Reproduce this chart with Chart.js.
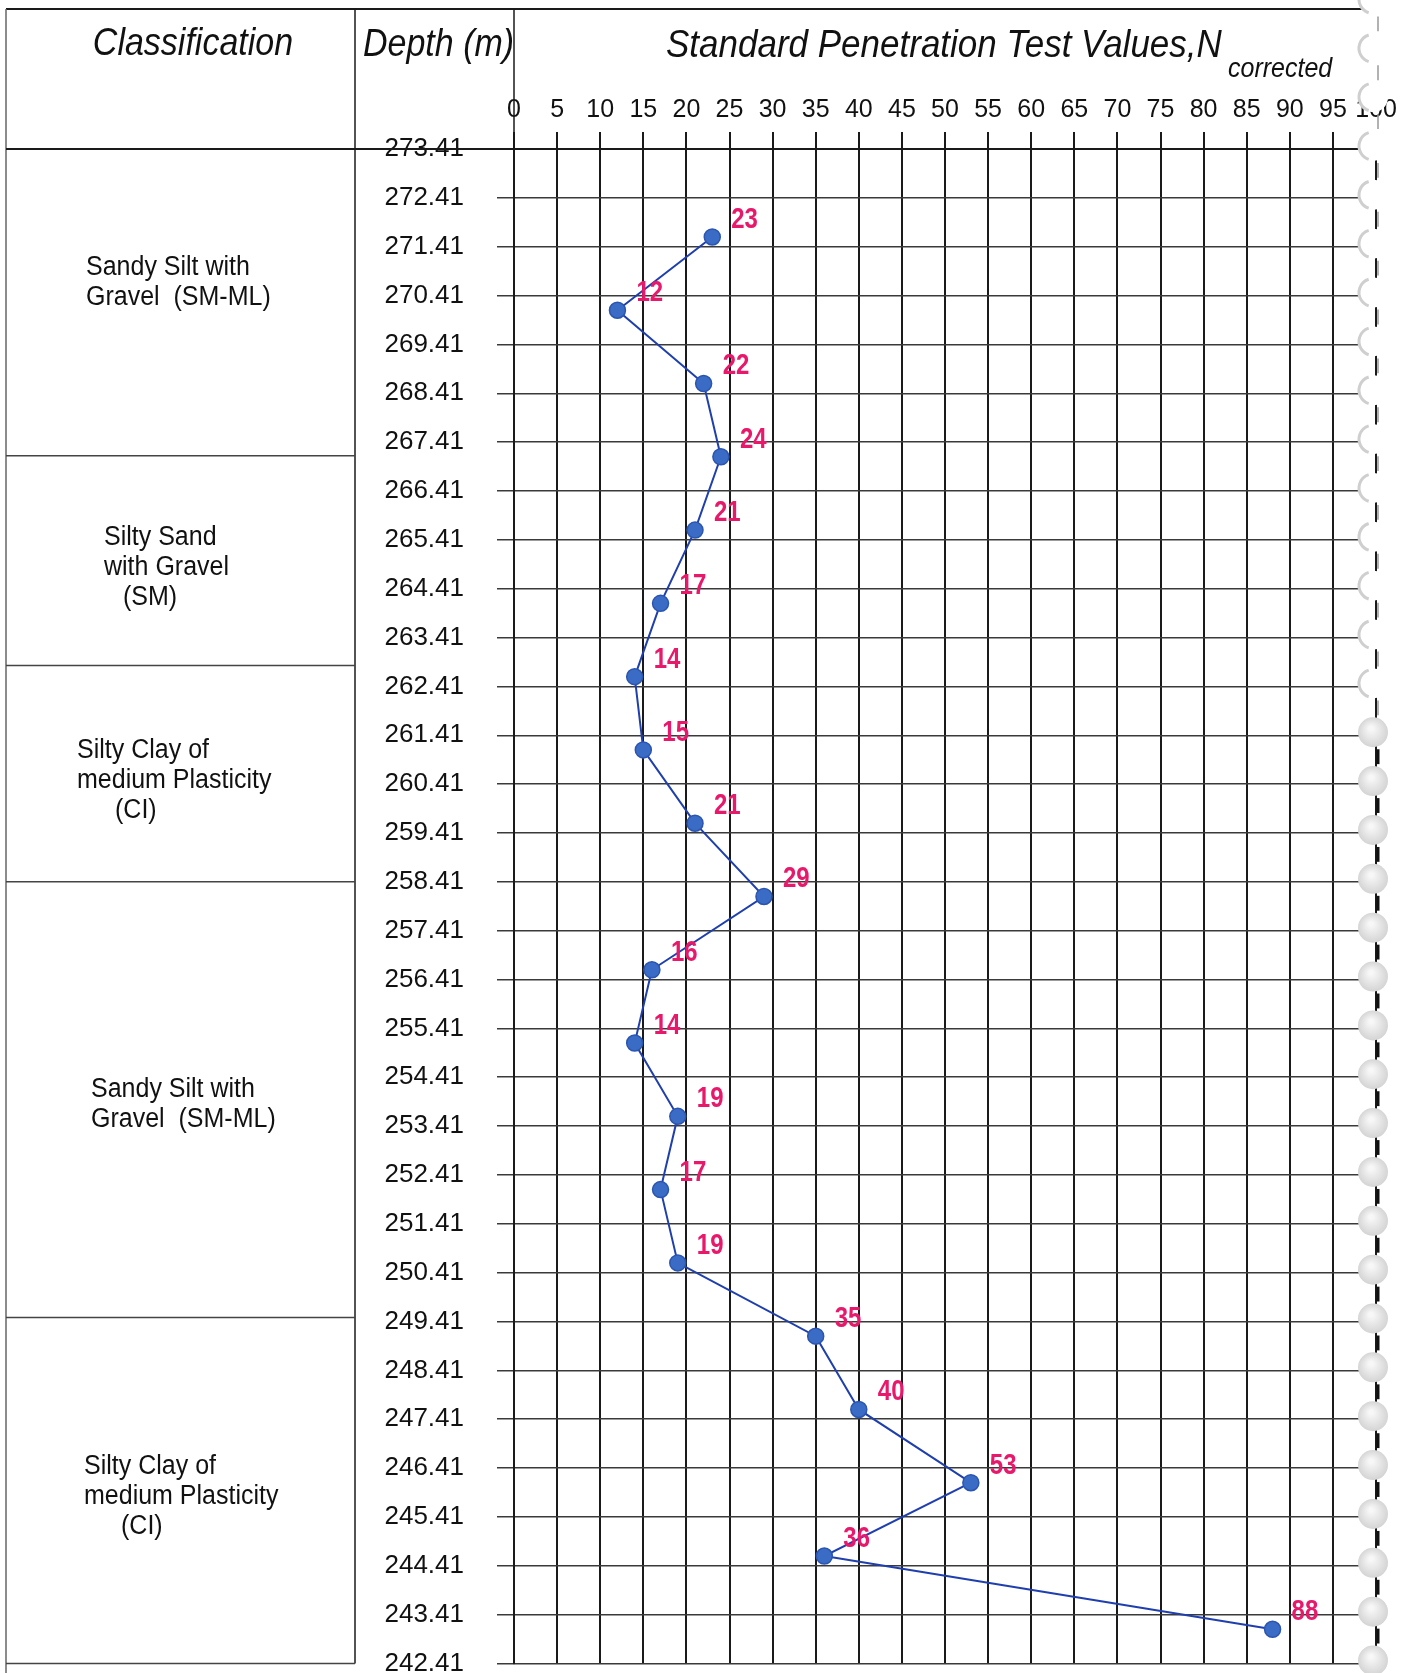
<!DOCTYPE html>
<html>
<head>
<meta charset="utf-8">
<script src="https://cdn.jsdelivr.net/npm/chart.js@4.4.1/dist/chart.umd.min.js"></script>
<style>
  body { margin: 0; background: #fff; }
  canvas { display: block; }
</style>
</head>
<body>
<canvas id="sptChart" width="1404" height="1673"></canvas>
<script>
// depth axis labels (m)
const depthTicks = [273.41, 272.41, 271.41, 270.41, 269.41, 268.41, 267.41, 266.41,
  265.41, 264.41, 263.41, 262.41, 261.41, 260.41, 259.41, 258.41, 257.41, 256.41,
  255.41, 254.41, 253.41, 252.41, 251.41, 250.41, 249.41, 248.41, 247.41, 246.41,
  245.41, 244.41, 243.41, 242.41];

// SPT test depths and N corrected values
const sampleDepths = [271.61, 270.11, 268.61, 267.11, 265.61, 264.11, 262.61, 261.11,
  259.61, 258.11, 256.61, 255.11, 253.61, 252.11, 250.61, 249.11, 247.61, 246.11,
  244.61, 243.11];
const nValues = [23, 12, 22, 24, 21, 17, 14, 15, 21, 29, 16, 14, 19, 17, 19, 35, 40, 53, 36, 88];

// soil layers
const layerNames = [
  ["Sandy Silt with", "Gravel  (SM-ML)"],
  ["Silty Sand", "with Gravel", "(SM)"],
  ["Silty Clay of", "medium Plasticity", "(CI)"],
  ["Sandy Silt with", "Gravel  (SM-ML)"],
  ["Silty Clay of", "medium Plasticity", "(CI)"]
];
const layerTops = [273.41, 267.13, 262.84, 258.41, 249.49];
const layerBottoms = [267.13, 262.84, 258.41, 249.49, 242.41];

// where the layer text sits inside each cell
const layerTextX = [[86, 86], [104, 104, 123], [77, 77, 115], [91, 91], [84, 84, 121]];
const layerTextShift = [-20, 7, 7, 5, 6];

const FONT = "'Liberation Sans', Arial, sans-serif";

// the scan is a bit taller than wide, so stretch drawn text vertically
function tallText(ctx, text, x, y, sy) {
  ctx.save();
  ctx.translate(x, y);
  ctx.scale(1, sy);
  ctx.fillText(text, 0, 0);
  ctx.restore();
}

const valueLabels = {
  id: 'valueLabels',
  afterDatasetsDraw(chart) {
    const ctx = chart.ctx;
    const meta = chart.getDatasetMeta(0);
    ctx.save();
    ctx.fillStyle = '#e8186a';
    ctx.font = 'bold 24px ' + FONT;
    ctx.textAlign = 'left';
    ctx.textBaseline = 'middle';
    meta.data.forEach((pt, i) => {
      tallText(ctx, String(nValues[i]), pt.x + 19, pt.y - 17, 1.2);
    });
    ctx.restore();
  }
};

const tableFrame = {
  id: 'tableFrame',
  afterDraw(chart) {
    const ctx = chart.ctx;
    const y = chart.scales.y;
    const area = chart.chartArea;
    ctx.save();

    function line(x1, y1, x2, y2, w, c) {
      ctx.beginPath();
      ctx.lineWidth = w;
      ctx.strokeStyle = c || '#1a1a1a';
      ctx.moveTo(x1, y1);
      ctx.lineTo(x2, y2);
      ctx.stroke();
    }

    line(6, 9, area.right, 9, 2);
    line(6, 9, 6, 1673, 1.5, '#666');
    line(355, 9, 355, area.bottom, 1.5);
    line(area.left, 9, area.left, area.top, 1.5);
    line(6, area.top, area.left, area.top, 2);
    layerBottoms.forEach(d => {
      const py = y.getPixelForValue(d);
      line(6, py, 355, py, 1.5, '#444');
    });

    // layer names
    ctx.fillStyle = '#111';
    ctx.font = '25px ' + FONT;
    ctx.textAlign = 'left';
    ctx.textBaseline = 'middle';
    layerNames.forEach((lines, i) => {
      const mid = (y.getPixelForValue(layerTops[i]) + y.getPixelForValue(layerBottoms[i])) / 2 + layerTextShift[i];
      const start = mid - (lines.length - 1) * 15;
      lines.forEach((t, j) => tallText(ctx, t, layerTextX[i][j], start + j * 30, 1.08));
    });

    // header text
    ctx.font = 'italic 34px ' + FONT;
    ctx.textAlign = 'center';
    tallText(ctx, 'Classification', 193, 44, 1.12);
    ctx.textAlign = 'left';
    tallText(ctx, 'Depth (m)', 363, 45, 1.12);
    ctx.font = 'italic 35px ' + FONT;
    tallText(ctx, 'Standard Penetration Test Values,N', 666, 46, 1.12);
    ctx.font = 'italic 25px ' + FONT;
    tallText(ctx, 'corrected', 1228, 69, 1.12);

    // binding holes of the scanned sheet
    const step = y.getPixelForValue(depthTicks[1]) - y.getPixelForValue(depthTicks[0]);
    for (let k = -3; k < 32; k++) {
      const cy = area.top + k * step - 3;
      const cx = 1373;
      if (cy < 700) {
        ctx.beginPath();
        ctx.fillStyle = '#fff';
        ctx.arc(cx, cy, 15, 0, Math.PI * 2);
        ctx.fill();
        ctx.beginPath();
        ctx.strokeStyle = '#cfcfcf';
        ctx.lineWidth = 3;
        ctx.arc(cx, cy, 14, Math.PI * 0.6, Math.PI * 1.4);
        ctx.stroke();
        line(1378, cy + 17, 1378, cy + step - 17, 1.5, '#999');
      } else {
        const g = ctx.createRadialGradient(cx - 2, cy - 4, 2, cx, cy, 16);
        g.addColorStop(0, '#f7f7f7');
        g.addColorStop(1, '#d2d2d2');
        ctx.beginPath();
        ctx.fillStyle = g;
        ctx.arc(cx, cy, 15, 0, Math.PI * 2);
        ctx.fill();
        line(1378, cy + 17, 1378, cy + step - 17, 3, '#111');
      }
    }
    ctx.restore();
  }
};

new Chart(document.getElementById('sptChart').getContext('2d'), {
  type: 'scatter',
  data: {
    datasets: [{
      label: 'N corrected',
      data: sampleDepths.map((d, i) => ({ x: nValues[i], y: d })),
      showLine: true,
      borderColor: '#1f3fae',
      borderWidth: 2,
      pointRadius: 8,
      pointBackgroundColor: '#3a6cc6',
      pointBorderColor: '#2b55b0',
      pointBorderWidth: 1.5,
      tension: 0
    }]
  },
  options: {
    responsive: false,
    animation: false,
    devicePixelRatio: 1,
    layout: { padding: { top: 0, left: 0, right: 28, bottom: 6 } },
    plugins: {
      legend: { display: false },
      tooltip: { enabled: false }
    },
    scales: {
      x: {
        type: 'linear',
        position: 'top',
        min: 0,
        max: 100,
        ticks: {
          stepSize: 5,
          padding: 7,
          autoSkip: false,
          maxRotation: 0,
          color: '#111',
          font: { family: FONT, size: 25 }
        },
        grid: { color: '#1a1a1a', lineWidth: 2, tickLength: 17 },
        border: { color: '#1a1a1a', width: 2 },
        afterFit(scale) {
          scale.height = 149;
          scale.paddingLeft = 0;
          scale.paddingRight = 0;
        }
      },
      y: {
        type: 'linear',
        min: 242.41,
        max: 273.41,
        afterBuildTicks(scale) {
          scale.ticks = depthTicks.map(v => ({ value: v }));
        },
        ticks: {
          padding: 33,
          autoSkip: false,
          color: '#111',
          font: { family: FONT, size: 26 },
          callback: (value) => Number(value).toFixed(2)
        },
        grid: { color: '#3a3a3a', lineWidth: 1.5, tickLength: 17 },
        border: { color: '#1a1a1a', width: 2 },
        afterFit(scale) {
          scale.width = 514;
          scale.paddingTop = 0;
          scale.paddingBottom = 0;
        }
      }
    }
  },
  plugins: [valueLabels, tableFrame]
});
</script>
</body>
</html>
